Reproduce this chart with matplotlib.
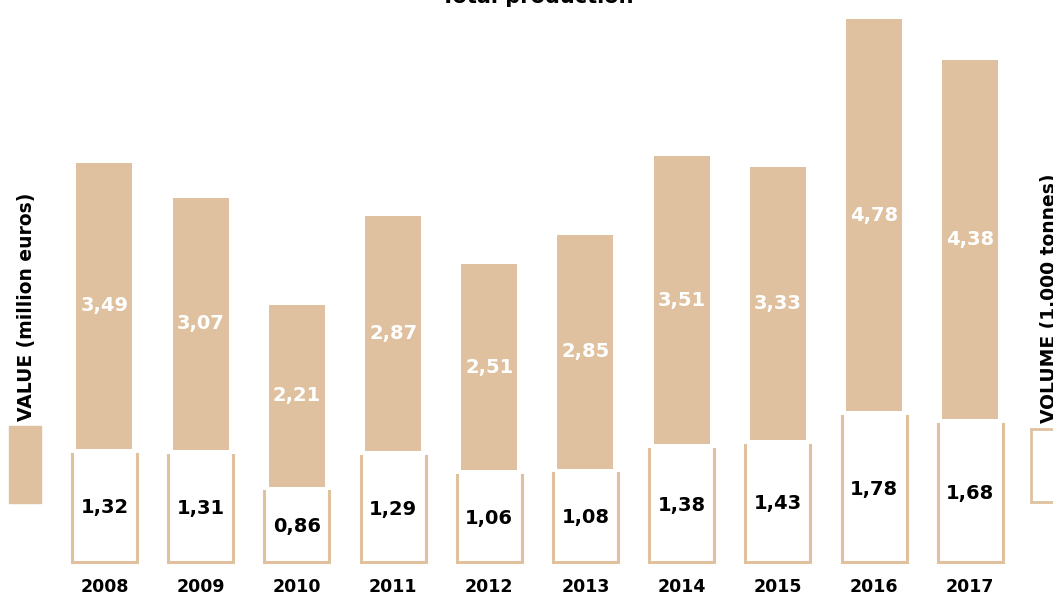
import numpy as np
import matplotlib.pyplot as plt
from matplotlib.patches import Rectangle

years = ['2008', '2009', '2010', '2011', '2012', '2013', '2014', '2015', '2016', '2017']
value = [3.49, 3.07, 2.21, 2.87, 2.51, 2.85, 3.51, 3.33, 4.78, 4.38]
volume = [1.32, 1.31, 0.86, 1.29, 1.06, 1.08, 1.38, 1.43, 1.78, 1.68]

tan = '#dfc1a0'
gap = 0.06


def fmt(v):
    return ('%.2f' % v).replace('.', ',')


fig = plt.figure(figsize=(10.53, 5.96), dpi=100)
ax = fig.add_axes([0, 0, 1, 1])
ax.set_xlim(-1.086, 9.86)
ax.set_ylim(-0.415, 6.854)
ax.axis('off')

x = np.arange(len(years))
# value bars sit on top of the volume cups
ax.bar(x, value, width=0.582, bottom=np.array(volume) + gap, color=tan)

cw = 0.676 / 2
for i, (v, val) in enumerate(zip(volume, value)):
    ax.plot([i - cw, i - cw, i + cw, i + cw], [v, 0, 0, v],
            color=tan, lw=2.2, solid_joinstyle='miter')
    ax.text(i, v / 2, fmt(v), ha='center', va='center',
            fontsize=14, fontweight='bold', color='black')
    ax.text(i, v + gap + val / 2, fmt(val), ha='center', va='center',
            fontsize=14, fontweight='bold', color='white')
    ax.text(i, -0.3, years[i], ha='center', va='center',
            fontsize=12.5, fontweight='bold', color='black')

fig.text(0.51, 1 - 3 / 596, 'Total production', ha='center', va='baseline',
         fontsize=15, fontweight='bold')

# legend boxes
fig.add_artist(Rectangle((9 / 1053, 1 - 503 / 596), 32 / 1053, 77 / 596,
                         transform=fig.transFigure, color=tan))
fig.add_artist(Rectangle((1031 / 1053, 1 - 502 / 596), 40 / 1053, 73 / 596,
                         transform=fig.transFigure, facecolor='white',
                         edgecolor=tan, lw=2))
fig.text(27 / 1053, 1 - 421 / 596, 'VALUE (million euros)', rotation=90,
         ha='center', va='bottom', fontsize=13.5, fontweight='bold')
fig.text(1049 / 1053, 1 - 423 / 596, 'VOLUME (1.000 tonnes)', rotation=90,
         ha='center', va='bottom', fontsize=13.5, fontweight='bold')

fig.savefig('out.png', dpi=100)
